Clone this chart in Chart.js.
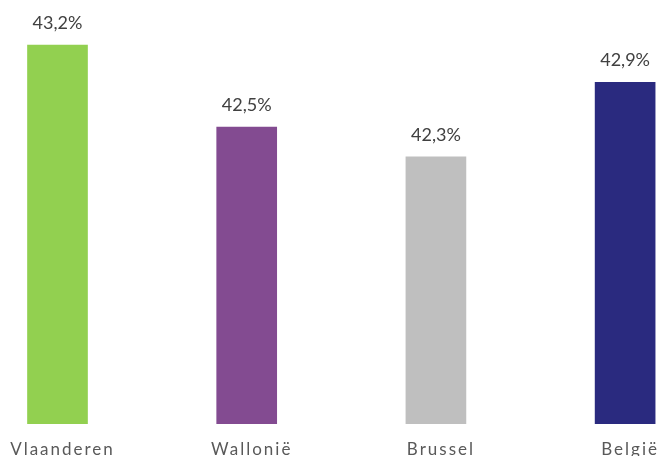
<!DOCTYPE html>
<html>
<head>
<meta charset="utf-8">
<script src="https://cdn.jsdelivr.net/npm/chart.js@4.4.1/dist/chart.umd.min.js"></script>
<style>
    html, body { margin: 0; padding: 0; background: #fff; }
    #wrap { width: 660px; height: 456px; position: relative; }
</style>
</head>
<body>
<div id="wrap"><canvas id="regionChart"></canvas></div>
<script>
const regions = ['Vlaanderen', 'Wallonië', 'Brussel', 'België'];
const shares = [43.2, 42.54, 42.3, 42.9];
const barColors = ['#92D050', '#834B91', '#BFBFBF', '#2A2A7F'];

// axis is cut off below, bars start around 40,15
const axisMin = 40.15;
const axisMax = 43.2;

// value labels above each bar, Dutch style comma
const valueLabels = {
    id: 'valueLabels',
    afterDatasetsDraw(chart) {
        const ctx = chart.ctx;
        const meta = chart.getDatasetMeta(0);
        ctx.save();
        ctx.letterSpacing = '0px';
        ctx.font = '18px Lato';
        ctx.fillStyle = '#404040';
        ctx.textAlign = 'center';
        ctx.textBaseline = 'alphabetic';
        meta.data.forEach((bar, i) => {
            const txt = shares[i].toFixed(1).replace('.', ',') + '%';
            ctx.fillText(txt, bar.x, bar.y - 16);
        });
        ctx.restore();
    }
};

// spaced-out category labels
const spacedTicks = {
    id: 'spacedTicks',
    beforeDraw(chart) {
        chart.ctx.letterSpacing = '2px';
    }
};

new Chart(document.getElementById('regionChart').getContext('2d'), {
    type: 'bar',
    data: {
        labels: regions,
        datasets: [{
            data: shares,
            backgroundColor: barColors,
            barThickness: 60,
            base: axisMin,
            // outer bars stick out past the plot area sideways
            clip: { left: 40, right: 40, top: 50, bottom: 0 }
        }]
    },
    options: {
        responsive: true,
        maintainAspectRatio: false,
        animation: false,
        layout: { padding: { left: 57.5, right: 34, top: 45, bottom: 0 } },
        plugins: {
            legend: { display: false },
            tooltip: { enabled: false }
        },
        scales: {
            x: {
                offset: false,
                grid: { display: false, drawTicks: false },
                border: { display: false },
                ticks: {
                    color: '#595959',
                    font: { family: 'Lato', size: 17, lineHeight: 1.6 },
                    padding: 12,
                    labelOffset: 5,
                    maxRotation: 0,
                    autoSkip: false
                },
                afterFit(scale) { scale.height = 32; }
            },
            y: {
                display: false,
                min: axisMin,
                max: axisMax
            }
        }
    },
    plugins: [valueLabels, spacedTicks]
});
</script>
</body>
</html>
